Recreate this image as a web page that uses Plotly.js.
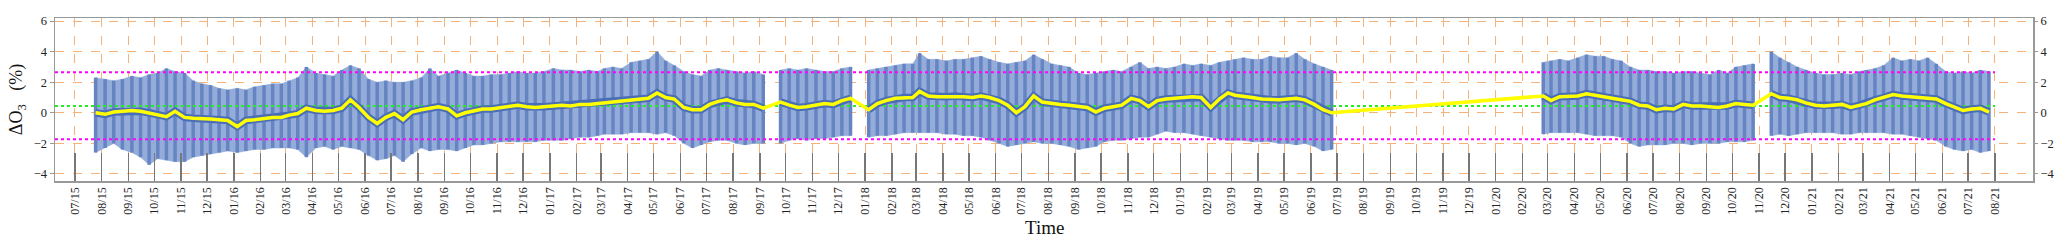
<!DOCTYPE html>
<html>
<head>
<meta charset="utf-8">
<script src="https://cdn.plot.ly/plotly-3.0.1.min.js"></script>
<style>html,body{margin:0;padding:0;background:#fff;}#chart{width:2067px;height:251px;}</style>
</head>
<body>
<div id="chart"></div>
<script>
// Monthly bins (values at day 05, 15, 25 of each month)
var months = [
 '2015-07','2015-08','2015-09','2015-10','2015-11','2015-12',
 '2016-01','2016-02','2016-03','2016-04','2016-05','2016-06','2016-07','2016-08','2016-09','2016-10','2016-11','2016-12',
 '2017-01','2017-02','2017-03','2017-04','2017-05','2017-06','2017-07','2017-08','2017-09','2017-10','2017-11','2017-12',
 '2018-01','2018-02','2018-03','2018-04','2018-05','2018-06','2018-07','2018-08','2018-09','2018-10','2018-11','2018-12',
 '2019-01','2019-02','2019-03','2019-04','2019-05','2019-06','2019-07','2019-08','2019-09','2019-10','2019-11','2019-12',
 '2020-01','2020-02','2020-03','2020-04','2020-05','2020-06','2020-07','2020-08','2020-09','2020-10','2020-11','2020-12',
 '2021-01','2021-02','2021-03','2021-04','2021-05','2021-06','2021-07'
];
var binDays = ['05','15','25'];
var lastTickMonth = '2021-08';

// Yellow running mean of delta O3 (%)
var meanO3 = [
 null,null,0.0,  -0.1,0.05,0.1,  0.15,0.1,0.0,  -0.1,-0.25,0.1,  -0.3,-0.35,-0.35,  -0.4,-0.45,-0.5,
 -0.9,-0.5,-0.45,  -0.35,-0.3,-0.3,  -0.15,-0.05,0.3,  0.15,0.1,0.15,  0.3,0.85,0.35,  -0.3,-0.7,-0.3,
 -0.05,-0.45,0.05,  0.2,0.3,0.4,  0.25,-0.2,0.0,  0.15,0.25,0.25,  0.35,0.4,0.5,  0.4,0.35,0.4,
 0.45,0.5,0.45,  0.55,0.55,0.6,  0.65,0.7,0.75,  0.8,0.9,0.95,  1.3,1.0,0.9,  0.35,0.2,0.2,
 0.55,0.75,0.85,  0.65,0.55,0.55,  0.3,null,0.7,  0.5,0.35,0.4,  0.5,0.6,0.55,  0.8,0.95,null,
 0.2,0.6,0.8,  0.95,1.0,1.0,  1.4,1.1,1.05,  1.05,1.1,1.05,  1.0,1.1,1.0,  0.8,0.5,0.0,
 0.4,1.1,0.7,  0.6,0.55,0.5,  0.4,0.35,0.05,  0.3,0.4,0.5,  0.95,0.8,0.4,  0.8,0.9,0.95,
 1.0,1.05,1.0,  0.35,0.9,1.3,  1.15,1.05,1.0,  0.9,0.85,0.85,  0.9,0.95,0.85,  0.55,0.2,0.0,
 null,null,null,  null,null,null,  null,null,null,  null,null,null,  null,null,null,  null,null,null,
 null,null,null,  null,null,1.1,  0.8,1.05,1.05,  1.1,1.25,1.15,  1.0,0.95,0.85,  0.75,0.5,0.45,
 0.2,0.3,0.25,  0.55,0.45,0.45,  0.4,0.35,0.45,  0.6,0.55,0.5,  null,1.25,1.0,  0.95,0.85,0.65,
 0.5,0.45,0.5,  0.55,0.35,0.5,  0.6,0.85,1.0,  1.2,1.1,1.05,  1.0,0.95,0.9,  0.6,0.35,0.15,
 0.25,0.3,0.05
];

// Upper end of the blue daily ranges
var upperO3 = [
 null,null,2.3,  2.2,2.1,2.2,  2.4,2.3,2.5,  2.6,2.9,2.7,  2.6,2.1,1.9,  1.8,1.6,1.5,
 1.6,1.5,1.7,  1.8,1.9,1.9,  2.1,2.3,3.0,  2.6,2.5,2.4,  2.8,3.1,2.9,  2.2,2.0,2.1,
 2.0,2.0,2.1,  2.3,2.9,2.4,  2.6,2.8,2.6,  2.4,2.4,2.5,  2.5,2.6,2.7,  2.6,2.6,2.7,
 2.9,2.8,2.8,  2.7,2.8,2.7,  2.9,3.0,2.9,  3.3,3.4,3.5,  4.0,3.4,3.1,  2.7,2.5,2.4,
 2.8,2.9,2.8,  2.7,2.6,2.7,  2.5,null,2.8,  2.9,2.8,2.9,  2.8,2.7,2.7,  2.9,3.0,null,
 2.8,2.9,3.0,  3.1,3.2,3.2,  3.9,3.5,3.5,  3.4,3.5,3.5,  3.6,3.7,3.5,  3.3,3.2,3.3,
 3.4,3.8,3.5,  3.2,3.1,3.0,  2.6,2.5,2.6,  2.7,2.8,2.7,  3.0,3.3,2.9,  3.0,2.9,3.0,
 3.2,3.1,3.2,  3.1,3.3,3.4,  3.5,3.6,3.5,  3.5,3.7,3.6,  3.6,3.9,3.5,  3.2,3.0,2.8,
 null,null,null,  null,null,null,  null,null,null,  null,null,null,  null,null,null,  null,null,null,
 null,null,null,  null,null,3.3,  3.4,3.5,3.4,  3.6,3.8,3.7,  3.7,3.5,3.4,  3.0,2.8,2.8,
 2.7,2.7,2.6,  2.7,2.7,2.6,  2.5,2.8,2.6,  3.0,3.1,3.2,  null,4.0,3.6,  3.3,3.0,2.8,
 2.6,2.5,2.5,  2.6,2.5,2.7,  2.8,2.9,3.1,  3.6,3.4,3.5,  3.4,3.6,3.2,  2.7,2.6,2.7,
 2.6,2.8,2.7
];

// Lower end of the blue daily ranges
var lowerO3 = [
 null,null,-2.6,  -2.3,-2.0,-2.4,  -2.6,-2.9,-3.4,  -3.0,-3.1,-3.2,  -3.2,-2.9,-2.8,  -2.7,-2.6,-2.5,
 -2.6,-2.5,-2.4,  -2.4,-2.3,-2.3,  -2.3,-2.4,-2.9,  -2.3,-2.2,-2.4,  -2.2,-2.3,-2.4,  -2.8,-3.1,-3.0,
 -2.8,-3.2,-2.7,  -2.3,-2.5,-2.4,  -2.4,-2.5,-2.3,  -2.1,-2.1,-2.0,  -1.9,-1.9,-1.9,  -1.9,-1.9,-1.8,
 -1.8,-1.8,-1.7,  -1.6,-1.6,-1.5,  -1.4,-1.4,-1.4,  -1.3,-1.3,-1.3,  -1.4,-1.3,-1.5,  -2.0,-2.3,-2.1,
 -1.9,-1.8,-1.8,  -2.0,-2.1,-2.0,  -2.0,null,-2.0,  -1.8,-1.7,-1.8,  -1.7,-1.7,-1.6,  -1.5,-1.5,null,
 -1.6,-1.5,-1.5,  -1.4,-1.3,-1.3,  -1.3,-1.3,-1.3,  -1.4,-1.4,-1.5,  -1.5,-1.6,-1.8,  -2.0,-2.2,-2.1,
 -2.0,-1.9,-2.0,  -2.0,-2.1,-2.2,  -2.4,-2.3,-2.2,  -1.9,-1.8,-1.8,  -1.7,-1.6,-1.6,  -1.4,-1.2,-1.3,
 -1.3,-1.4,-1.5,  -1.6,-1.7,-1.8,  -1.8,-1.8,-1.9,  -1.9,-1.9,-2.0,  -2.0,-2.1,-2.0,  -2.2,-2.5,-2.4,
 null,null,null,  null,null,null,  null,null,null,  null,null,null,  null,null,null,  null,null,null,
 null,null,null,  null,null,-1.4,  -1.3,-1.3,-1.3,  -1.3,-1.4,-1.5,  -1.5,-1.5,-1.6,  -2.0,-2.2,-2.1,
 -2.1,-2.1,-2.0,  -2.0,-2.1,-2.0,  -2.0,-2.0,-1.9,  -1.9,-1.9,-1.8,  null,-1.5,-1.4,  -1.5,-1.4,-1.3,
 -1.3,-1.3,-1.3,  -1.4,-1.4,-1.3,  -1.3,-1.3,-1.3,  -1.4,-1.4,-1.5,  -1.6,-1.7,-1.8,  -2.2,-2.4,-2.5,
 -2.4,-2.6,-2.5
];

// Reference levels
var upperLimit = 2.65;
var lowerLimit = -1.73;
var overallMean = 0.44;
var levelStart = '2015-06-08';
var levelEnd = '2021-08-01';

var dates = [];
months.forEach(function(m){ binDays.forEach(function(d){ dates.push(m + '-' + d); }); });
var tickVals = months.concat([lastTickMonth]).map(function(m){ return m + '-01'; });

// Build band polygons (one per contiguous run) and vertical range segments
var bandTraces = [];
var segX = [], segY = [];
var run = [];
function flushRun(){
  if (run.length > 0) {
    var px = [], py = [];
    run.forEach(function(i){ px.push(dates[i]); py.push(upperO3[i]); });
    for (var k = run.length - 1; k >= 0; k--) { px.push(dates[run[k]]); py.push(lowerO3[run[k]]); }
    bandTraces.push({type: 'scatter', mode: 'lines', x: px, y: py, fill: 'toself',
      fillcolor: '#93acd9', line: {width: 0.5, color: '#93acd9'}, hoverinfo: 'skip'});
  }
  run = [];
}
for (var i = 0; i < dates.length; i++) {
  if (upperO3[i] === null || lowerO3[i] === null) { flushRun(); continue; }
  run.push(i);
  segX.push(dates[i], dates[i], null);
  segY.push(lowerO3[i], upperO3[i], null);
}
flushRun();

var serif = 'Liberation Serif, Times New Roman, serif';

var traces = bandTraces.concat([
  {type: 'scatter', mode: 'lines', x: segX, y: segY, connectgaps: false,
   line: {color: '#6684c2', width: 3.5}, hoverinfo: 'skip'},
  {type: 'scatter', mode: 'lines', x: [levelStart, levelEnd], y: [upperLimit, upperLimit],
   line: {color: '#ff00ff', width: 2, dash: 'dot'}, hoverinfo: 'skip'},
  {type: 'scatter', mode: 'lines', x: [levelStart, levelEnd], y: [lowerLimit, lowerLimit],
   line: {color: '#ff00ff', width: 2, dash: 'dot'}, hoverinfo: 'skip'},
  {type: 'scatter', mode: 'lines', x: [levelStart, levelEnd], y: [overallMean, overallMean],
   line: {color: '#22ee22', width: 2, dash: 'dot'}, hoverinfo: 'skip'},
  {type: 'scatter', mode: 'lines', x: dates, y: meanO3, connectgaps: false,
   line: {color: '#4a6db8', width: 7.5}, hoverinfo: 'skip'},
  {type: 'scatter', mode: 'lines', x: dates, y: meanO3, connectgaps: true,
   line: {color: '#ffff00', width: 3.5}, hoverinfo: 'skip'},
  {type: 'scatter', mode: 'lines', x: [levelStart], y: [0], yaxis: 'y2', opacity: 0, hoverinfo: 'skip'}
]);

var layout = {
  width: 2067, height: 251,
  margin: {l: 55, r: 34, t: 18, b: 70},
  paper_bgcolor: '#ffffff', plot_bgcolor: '#ffffff',
  showlegend: false,
  xaxis: {
    type: 'date', range: ['2015-06-08', '2021-09-14'],
    tickmode: 'array', tickvals: tickVals, tickformat: '%m/%y', tickangle: -90,
    ticks: 'inside', ticklen: 28, tickwidth: 1.5, tickcolor: '#777',
    showgrid: true, gridcolor: '#f7b27a', griddash: 'dash', gridwidth: 1,
    showline: true, linecolor: '#999', linewidth: 1.5, mirror: true,
    zeroline: false,
    tickfont: {family: serif, size: 12, color: '#222'}
  },
  yaxis: {
    range: [-4.46, 6.2], tick0: 0, dtick: 2,
    ticks: 'outside', ticklen: 4, tickcolor: '#999',
    showgrid: true, gridcolor: '#f7b27a', griddash: 'dash', gridwidth: 1,
    showline: true, linecolor: '#999', linewidth: 1.5, mirror: true,
    zeroline: false,
    tickfont: {family: serif, size: 12.5, color: '#222'},
    title: {text: 'ΔO<sub>3</sub>   (%)', font: {family: serif, size: 18, color: '#111'}, standoff: 6}
  },
  yaxis2: {
    overlaying: 'y', side: 'right', range: [-4.46, 6.2], tick0: 0, dtick: 2,
    ticks: 'outside', ticklen: 4, tickcolor: '#999',
    showgrid: false, zeroline: false, showline: false,
    tickfont: {family: serif, size: 12.5, color: '#222'}
  },
  annotations: [
    {text: 'Time', xref: 'paper', yref: 'paper', x: 0.5, y: 0, xanchor: 'center', yanchor: 'middle',
     yshift: -46, showarrow: false, font: {family: serif, size: 19, color: '#111'}}
  ]
};

Plotly.newPlot('chart', traces, layout, {staticPlot: true, displayModeBar: false});
</script>
</body>
</html>
